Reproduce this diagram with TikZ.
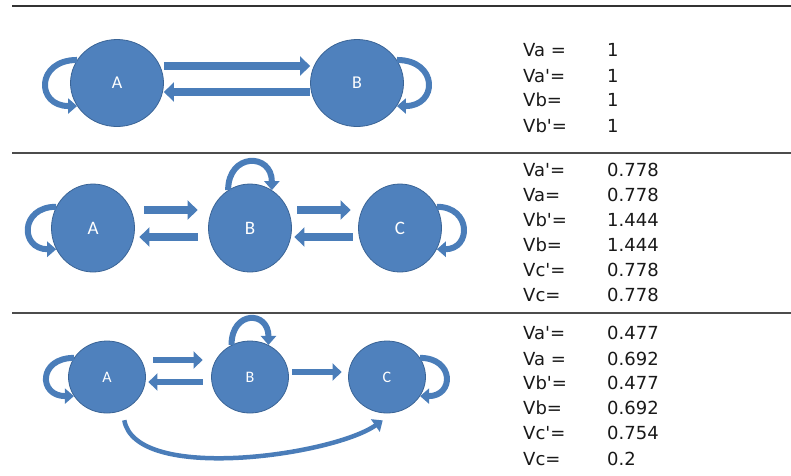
\documentclass[tikz,border=0pt]{standalone}
\usepackage{fontspec}
\setmainfont{DejaVu Sans}
\newfontfamily\statefont{Carlito}
\usetikzlibrary{arrows.meta,shapes.geometric}
\definecolor{stateblue}{HTML}{4F81BD}
\definecolor{stateedge}{HTML}{3A6496}
\definecolor{arrowblue}{HTML}{4A7DB9}

\begin{document}
\begin{tikzpicture}
  [x=1pt,y=1pt,
   state/.style={ellipse,fill=stateblue,draw=stateedge,line width=.8pt,inner sep=0pt,text=white},
   move/.style={every edge/.style={draw=arrowblue,line width=7.5pt,-{Triangle[width=19pt,length=10pt]}}},
   stay/.style={every edge/.style={draw=arrowblue,line width=6pt,-{Triangle[width=15pt,length=9pt]}}},
   rowtext/.style={anchor=west,inner sep=0pt,font=\fontsize{18}{18}\selectfont,text=black!90}]
  \useasboundingbox (0,0) rectangle (791,-475);

  % rules
  \draw[black!80,line width=1.3pt] (12,-6) -- (791,-6);
  \draw[black!70,line width=1.3pt] (12,-153) -- (791,-153);
  \draw[black!70,line width=1.3pt] (12,-313) -- (791,-313);

  % two states
  \node[state,minimum width=93,minimum height=87,font=\statefont\fontsize{18}{18}\selectfont] (A1) at (117,-83) {A};
  \node[state,minimum width=93,minimum height=87,font=\statefont\fontsize{18}{18}\selectfont] (B1) at (357,-83) {B};
  \path[move]
        ([yshift=17pt]A1.east) edge ([yshift=17pt]B1.west)
        ([yshift=-9pt]B1.west) edge ([yshift=-9pt]A1.east);
  \path[stay]
        (A1.150) edge[out=180,in=180,looseness=2.3] (A1.210)
        (B1.30) edge[out=0,in=0,looseness=2.3] (B1.-30);

  % three states
  \node[state,minimum width=83,minimum height=88,font=\statefont\fontsize{19}{19}\selectfont] (A2) at (93,-228) {A};
  \node[state,minimum width=83,minimum height=88,font=\statefont\fontsize{19}{19}\selectfont] (B2) at (250,-228) {B};
  \node[state,minimum width=83,minimum height=88,font=\statefont\fontsize{19}{19}\selectfont] (C2) at (400,-228) {C};
  \path[move]
        ([yshift=18pt]A2.east) edge[shorten <=9.5pt,shorten >=10.5pt] ([yshift=18pt]B2.west)
        ([yshift=-9pt]B2.west) edge[shorten <=10.5pt,shorten >=4.5pt] ([yshift=-9pt]A2.east)
        ([yshift=18pt]B2.east) edge[shorten <=5.5pt,shorten >=7.5pt] ([yshift=18pt]C2.west)
        ([yshift=-9pt]C2.west) edge[shorten <=5.5pt,shorten >=2.5pt] ([yshift=-9pt]B2.east);
  \path[stay]
        (A2.150) edge[out=180,in=180,looseness=2.2] (A2.210)
        (B2.120) edge[out=90,in=90,looseness=2.2] (B2.60)
        (C2.30) edge[out=0,in=0,looseness=2.1] (C2.-30);

  % three states, one way to C
  \node[state,minimum width=77,minimum height=72,font=\statefont\fontsize{16}{16}\selectfont] (A3) at (107,-377) {A};
  \node[state,minimum width=77,minimum height=72,font=\statefont\fontsize{16}{16}\selectfont] (B3) at (250,-377) {B};
  \node[state,minimum width=77,minimum height=72,font=\statefont\fontsize{16}{16}\selectfont] (C3) at (387,-377) {C};
  \path[move,every edge/.append style={line width=6.5pt,-{Triangle[width=17pt,length=9pt]}}]
        ([yshift=17pt]A3.east) edge[shorten <=7.5pt,shorten >=8.5pt] ([yshift=17pt]B3.west)
        ([yshift=-5pt]B3.west) edge[shorten <=8.5pt,shorten >=2.5pt] ([yshift=-5pt]A3.east)
        ([yshift=5pt]B3.east) edge[shorten <=3.5pt,shorten >=6.5pt] ([yshift=5pt]C3.west);
  \path[stay]
        (A3.150) edge[out=180,in=180,looseness=2.4] (A3.210)
        (B3.120) edge[out=90,in=90,looseness=2.4] (B3.60)
        (C3.30) edge[out=0,in=0,looseness=2.3] (C3.-30)
        (A3.-65) edge[line width=4.5pt,out=-80,in=-145,looseness=.7,shorten <=10pt,shorten >=13pt] (C3.-80);

  % values
  \foreach \yy/\lab/\val [count=\i] in {
      50/Va =/1, 76/Va\textquotesingle=/1, 100/Vb=/1, 126/Vb\textquotesingle=/1,
      170/Va\textquotesingle=/0.778, 195/Va=/0.778, 220/Vb\textquotesingle=/1.444,
      245/Vb=/1.444, 270/Vc\textquotesingle=/0.778, 295/Vc=/0.778,
      333/Va\textquotesingle=/0.477, 359/Va =/0.692, 383/Vb\textquotesingle=/0.477,
      408/Vb=/0.692, 433/Vc\textquotesingle=/0.754, 459/Vc=/0.2}
  {
    \node[rowtext] (lab\i) at (523,-\yy) {\lab};
    \node[rowtext] (val\i) at (607,-\yy) {\val};
  }

\end{tikzpicture}
\end{document}
